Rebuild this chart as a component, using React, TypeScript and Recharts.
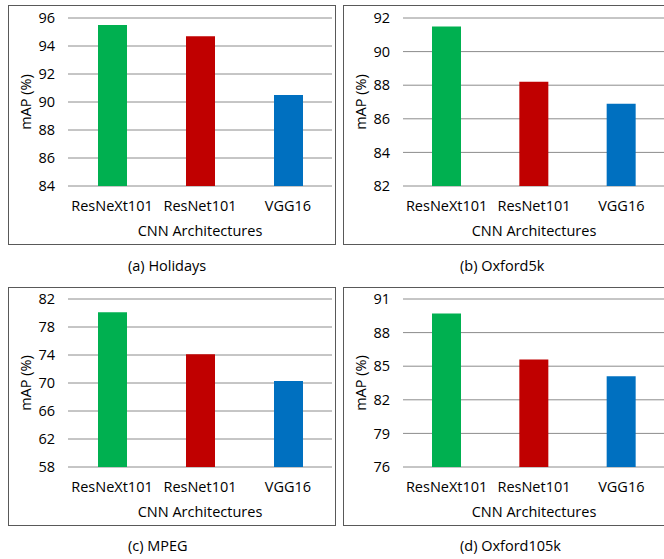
import { BarChart, Bar, XAxis, YAxis, CartesianGrid, ReferenceArea, Cell } from "recharts";

const categories = ["ResNeXt101", "ResNet101", "VGG16"];
const barColors = ["#00B050", "#C00000", "#0070C0"];

const holidays = [95.5, 94.7, 90.5];
const oxford5k = [91.5, 88.2, 86.9];
const mpeg = [80.1, 74.1, 70.3];
const oxford105k = [89.7, 85.6, 84.1];

const holidaysTicks = [84, 86, 88, 90, 92, 94, 96];
const oxford5kTicks = [82, 84, 86, 88, 90, 92];
const mpegTicks = [58, 62, 66, 70, 74, 78, 82];
const oxford105kTicks = [76, 79, 82, 85, 88, 91];

const FONT = "'Open Sans', Lato, sans-serif";
const FONT_SIZE = 14.5;

interface PanelProps {
  values: number[];
  ticks: number[];
  caption: string;
  left: number;
  top: number;
  width: number;
  height: number;
  captionLeft: number;
  captionTop: number;
}

const Panel = ({ values, ticks, caption, left, top, width, height, captionLeft, captionTop }: PanelProps) => {
  const data = categories.map((name, i) => ({ name, value: values[i] }));
  const tickStyle = { fontFamily: FONT, fontSize: FONT_SIZE, fill: "#000" };

  return (
    <>
      <div
        style={{
          position: "absolute",
          left,
          top,
          width,
          height: height + 1,
          boxSizing: "border-box",
          border: "1px solid #595959",
        }}
      />
      <div style={{ position: "absolute", left, top }}>
        <BarChart
          width={width}
          height={height}
          data={data}
          margin={{ top: height > 238 ? 13 : 12, right: 4, left: 0, bottom: 0 }}
        >
          <CartesianGrid vertical={false} stroke="#8c8c8c" strokeWidth={1} />
          <XAxis
            dataKey="name"
            height={58}
            tickLine={false}
            axisLine={false}
            tickSize={0}
            tickMargin={15}
            interval={0}
            tick={tickStyle}
            label={{
              value: "CNN Architectures",
              position: "insideBottom",
              offset: 8,
              style: { fontFamily: FONT, fontSize: FONT_SIZE, fill: "#000" },
            }}
          />
          <YAxis
            width={60}
            domain={[ticks[0], ticks[ticks.length - 1]]}
            ticks={ticks}
            interval={0}
            allowDataOverflow
            tickLine={false}
            axisLine={false}
            tickSize={0}
            tickMargin={13}
            tick={tickStyle}
            label={{
              value: "mAP (%)",
              angle: -90,
              position: "insideLeft",
              offset: 18,
              style: { fontFamily: FONT, fontSize: FONT_SIZE, fill: "#000", textAnchor: "middle" },
            }}
          />
          <Bar dataKey="value" barSize={29} isAnimationActive={false}>
            {data.map((d, i) => (
              <Cell key={d.name} fill={barColors[i]} />
            ))}
          </Bar>
          <ReferenceArea fill="none" stroke="#000" strokeWidth={1} ifOverflow="visible" />
        </BarChart>
      </div>
      <div
        style={{
          position: "absolute",
          left: captionLeft,
          top: captionTop,
          fontFamily: FONT,
          fontSize: FONT_SIZE,
          lineHeight: "18px",
          color: "#000",
          whiteSpace: "nowrap",
        }}
      >
        {caption}
      </div>
    </>
  );
};

export default function App() {
  return (
    <div
      style={{
        position: "absolute",
        left: 0,
        top: 0,
        width: 664,
        height: 559,
        overflow: "hidden",
        background: "#fff",
      }}
    >
      <Panel values={holidays} ticks={holidaysTicks} caption="(a) Holidays"
        left={8} top={5} width={328} height={239} captionLeft={128} captionTop={257} />
      <Panel values={oxford5k} ticks={oxford5kTicks} caption="(b) Oxford5k"
        left={343} top={5} width={326} height={239} captionLeft={460} captionTop={257} />
      <Panel values={mpeg} ticks={mpegTicks} caption="(c) MPEG"
        left={8} top={287} width={328} height={238} captionLeft={128} captionTop={537} />
      <Panel values={oxford105k} ticks={oxford105kTicks} caption="(d) Oxford105k"
        left={343} top={287} width={326} height={238} captionLeft={460} captionTop={537} />
    </div>
  );
}
